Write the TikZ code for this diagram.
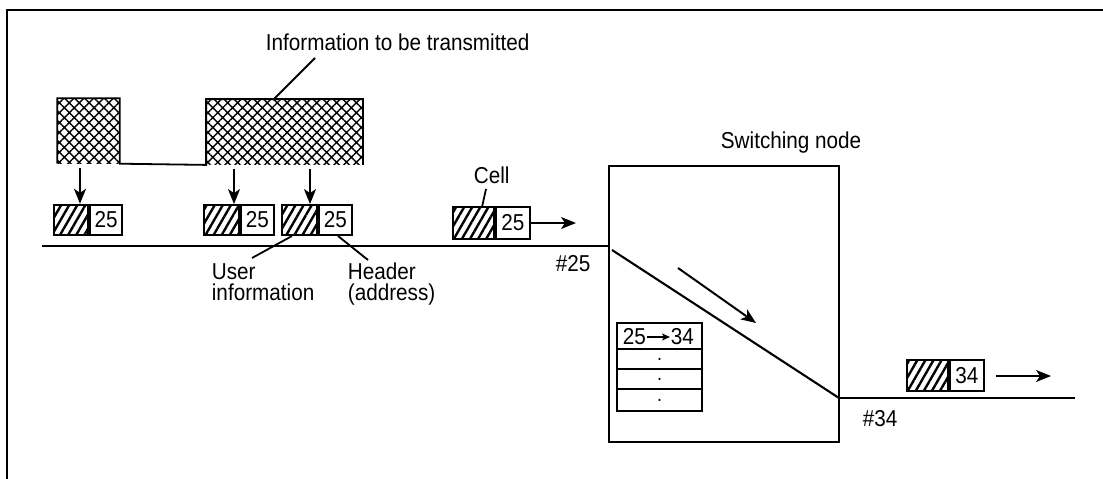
\documentclass[tikz,border=0pt]{standalone}
\usepackage{fontspec}
\setmainfont{Liberation Sans}[FakeStretch=0.9]
\usetikzlibrary{arrows.meta,patterns.meta}
\begin{document}
\begin{tikzpicture}[x=1pt,y=-1pt,line width=1.8pt,
  txt/.style={font=\fontsize{23}{23}\selectfont,inner sep=0pt,anchor=base west},
  hatchpart/.style={draw,inner sep=0pt,minimum width=#1,minimum height=30pt,
     pattern={Lines[angle=60,distance=7pt,line width=2.4pt]}},
  whitepart/.style={draw,inner sep=0pt,minimum width=#1,minimum height=30pt,
     font=\fontsize{23}{23}\selectfont},
  cross/.style={inner sep=0pt,pattern={Hatch[angle=45,distance=7pt,line width=1.4pt]}},
  arr/.style={-{Stealth[length=15pt,width=12pt,inset=4pt]}},
  smallarr/.style={-{Stealth[length=8pt,width=7pt,inset=2pt]},line width=1.5pt},
  row/.style={draw,inner sep=0pt,minimum width=85pt,minimum height=#1},
  dotlbl/.style={font=\fontsize{20}{20}\selectfont,inner sep=0pt},
]
\useasboundingbox (0,0) rectangle (1103,479);
% frame
\coordinate (fbl) at (7,479);
\coordinate (ftl) at (7,10);
\coordinate (ftr) at (1103,10);
\draw[line width=2.6pt] (fbl) -- (ftl) -- (ftr);

% information to be transmitted
\node[cross,minimum width=61pt,minimum height=64pt] (blk1) at (88.5,131) {};
\node[cross,minimum width=155pt,minimum height=64pt] (blk2) at (284.5,132) {};
\draw (blk1.south west) -- (blk1.north west) -- (blk1.north east) -- (blk1.south east)
   -- (blk2.south west) -- (blk2.north west) -- (blk2.north east) -- (blk2.south east);
\node[txt] (info) at (265,50) {Information to be transmitted};
\coordinate (infa) at (315,58);
\coordinate (infb) at (273,100);
\draw (infa) -- (infb);

% cells on the input line
\node[hatchpart=34pt] (c1h) at (71,220) {};
\node[whitepart=32pt,anchor=west] (c1w) at (c1h.east) {25};
\node[hatchpart=35pt] (c2h) at (221.5,220) {};
\node[whitepart=33pt,anchor=west] (c2w) at (c2h.east) {25};
\node[hatchpart=35pt] (c3h) at (299.5,220) {};
\node[whitepart=33pt,anchor=west] (c3w) at (c3h.east) {25};
\node[hatchpart=41pt,minimum height=32pt] (c4h) at (473.5,223) {};
\node[whitepart=34pt,minimum height=32pt,anchor=west] (c4w) at (c4h.east) {25};

% down arrows
\coordinate (a1) at (80,168);
\coordinate (a2) at (234,169);
\coordinate (a3) at (310,169);
\draw[arr] (a1) -- (a1 |- c1h.north);
\draw[arr] (a2) -- (a2 |- c2h.north);
\draw[arr] (a3) -- (a3 |- c3h.north);

% switching node
\node[draw,inner sep=0pt,minimum width=230pt,minimum height=276pt] (sw) at (724,304) {};
\node[txt] (swl) at (720,148) {Switching node};

% lines
\coordinate (lin0) at (42,246);
\draw (lin0) -- (lin0 -| sw.west);
\coordinate (d0) at (612,250);
\coordinate (d1) at (839,398);
\coordinate (lout) at (1075,398);
\draw[line width=2.1pt] (d0) -- (d1);
\draw (d1) -- (lout);

% labels
\node[txt] (user) at (211,279) {User};
\node[txt] (userb) at (211,300) {information};
\node[txt] (head) at (347,279) {Header};
\node[txt] (headb) at (347,300) {(address)};
\coordinate (ua) at (292,236);
\coordinate (ub) at (252,258);
\draw (ua) -- (ub);
\coordinate (ha) at (338,236);
\coordinate (hb) at (368,260);
\draw (ha) -- (hb);

\node[txt] (cell) at (473,183) {Cell};
\coordinate (ca) at (486,189);
\coordinate (cb) at (482,207);
\draw (ca) -- (cb);
\coordinate (ar1) at (531,223);
\coordinate (ar2) at (576,223);
\draw[arr,line width=1.5pt] (ar1) -- (ar2);
\node[txt] (n25) at (555,271) {\#25};

% arrow inside the switch
\coordinate (sa) at (678,268);
\coordinate (sb) at (756,323);
\draw[arr,line width=2pt] (sa) -- (sb);

% table
\node[row=26pt] (r1) at (659.5,336) {};
\node[row=20pt] (r2) at (659.5,359) {};
\node[row=20pt] (r3) at (659.5,379) {};
\node[row=22pt] (r4) at (659.5,400) {};
\node[txt] (t25) at (622,344) {25};
\node[txt] (t34) at (670,344) {34};
\draw[smallarr] (t25.east |- 0,337) -- (t34.west |- 0,337);
\node[dotlbl] (p2) at (r2.center) {.};
\node[dotlbl] (p3) at (r3.center) {.};
\node[dotlbl] (p4) at (r4.center) {.};

% output
\node[hatchpart=41pt,minimum height=31pt] (c5h) at (927.5,375.5) {};
\node[whitepart=34pt,minimum height=31pt,anchor=west] (c5w) at (c5h.east) {34};
\coordinate (o1) at (996,376);
\coordinate (o2) at (1051,376);
\draw[arr,line width=1.5pt] (o1) -- (o2);
\node[txt] (n34) at (862,426) {\#34};
\end{tikzpicture}
\end{document}
